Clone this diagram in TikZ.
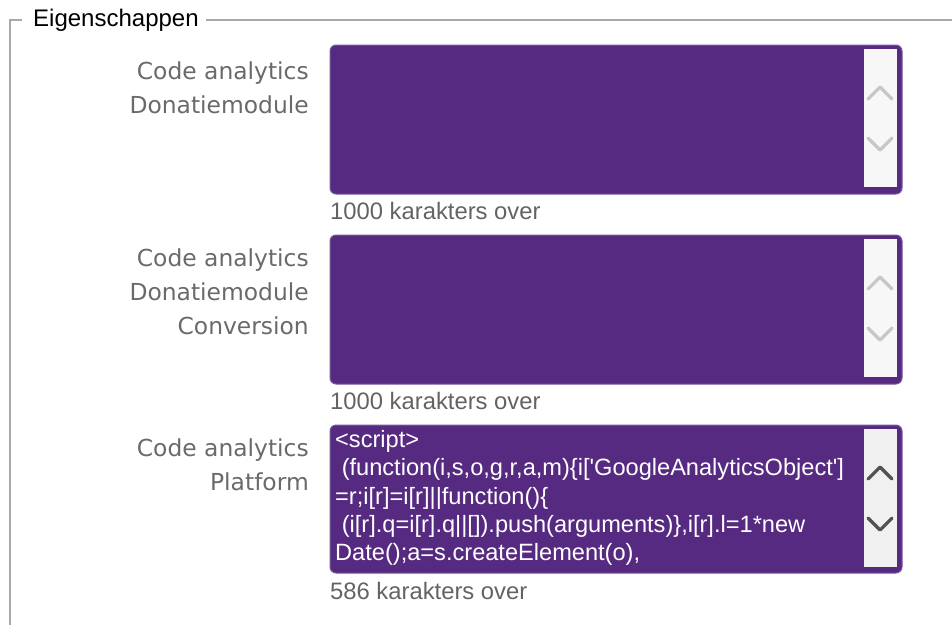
\documentclass[tikz,border=0pt]{standalone}
\usepackage{fontspec}
\setmainfont{Liberation Sans}
\newfontfamily\lblfont{DejaVu Sans}
\newfontfamily\codefont[Ligatures=TeXOff]{Liberation Sans}
\definecolor{purp}{HTML}{572A81}
\definecolor{purpedge}{HTML}{7B5A9C}
\definecolor{fsgray}{HTML}{A8A8A8}
\definecolor{lblgray}{HTML}{6A6A6A}
\definecolor{cntgray}{HTML}{636363}
\tikzset{
  field/.style={fill=purp, draw=purpedge, line width=1pt, rounded corners=6pt},
  chev/.style={line width=3.2pt, line cap=round, line join=round},
  lbl/.style={anchor=east, align=right, text=lblgray, font=\lblfont\fontsize{23.4}{34}\selectfont, inner sep=0pt},
  cnt/.style={anchor=west, text=cntgray, font=\fontsize{23.8}{26}\selectfont, inner sep=0pt},
}
\begin{document}
\begin{tikzpicture}[x=1pt,y=-1pt]
\useasboundingbox (0,0) rectangle (952,625);
% fieldset
\node[anchor=west, inner sep=0pt, font=\fontsize{24}{26}\selectfont, text=black] (legend) at (33,20) {Eigenschappen};
\coordinate (fsBL) at (10,625);
\coordinate (fsTR) at (952,20);
\draw[fsgray, line width=1.2pt] (legend.west) ++(-11,0) -| (fsBL);
\draw[fsgray, line width=1.2pt] (legend.east) ++(7,0) -- (fsTR);

% field 1
\node[lbl] (l1) at (309,88) {Code analytics\\Donatiemodule};
\path[field] (330,45) rectangle (902,194);
\node[fill=black!3, minimum width=33pt, minimum height=138pt, inner sep=0pt, anchor=north west] (s1) at (864,49) {};
\draw[chev, black!22] (868,99) -- (880,87) -- (892,99);
\draw[chev, black!22] (868,138) -- (880,150) -- (892,138);
\node[cnt] (c1) at (330,211) {1000 karakters over};

% field 2
\node[lbl] (l2) at (309,292) {Code analytics\\Donatiemodule\\Conversion};
\path[field] (330,235) rectangle (902,384);
\node[fill=black!3, minimum width=33pt, minimum height=138pt, inner sep=0pt, anchor=north west] (s2) at (864,239) {};
\draw[chev, black!22] (868,289) -- (880,277) -- (892,289);
\draw[chev, black!22] (868,328) -- (880,340) -- (892,328);
\node[cnt] (c2) at (330,401) {1000 karakters over};

% field 3
\node[lbl] (l3) at (309,465) {Code analytics\\Platform};
\path[field] (330,425) rectangle (902,573);
\node[fill=black!6, minimum width=33pt, minimum height=138pt, inner sep=0pt, anchor=north west] (s3) at (864,429) {};
\draw[chev, black!68] (868,479) -- (880,467) -- (892,479);
\draw[chev, black!68] (868,518) -- (880,530) -- (892,518);
\node[anchor=north west, align=left, text=white, inner sep=0pt, font=\codefont\fontsize{23.6}{28.4}\selectfont] (code) at (335,430) {%
\textless script\textgreater\\
\ (function(i,s,o,g,r,a,m)\{i['GoogleAnalyticsObject']\\
=r;i[r]=i[r]||function()\{\\
\ (i[r].q=i[r].q||[]).push(arguments)\},i[r].l=1*new\\
Date();a=s.createElement(o),};
\node[cnt] (c3) at (330,591) {586 karakters over};
\end{tikzpicture}
\end{document}
